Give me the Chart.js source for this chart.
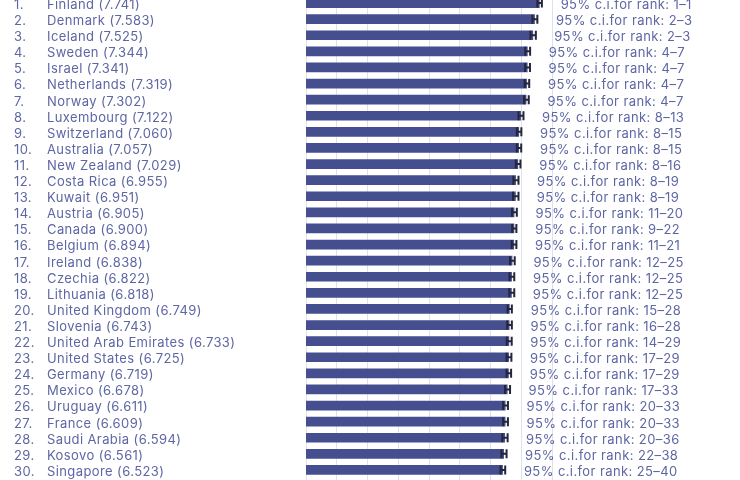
<!DOCTYPE html>
<html>
<head>
<meta charset="utf-8">
<script src="https://cdn.jsdelivr.net/npm/chart.js@4"></script>
<style>
  html, body { margin: 0; padding: 0; background: #fff; overflow: hidden; }
  #wrap { position: absolute; left: 0; top: -5px; width: 740px; height: 487px; }
</style>
</head>
<body>
<div id="wrap"><canvas id="chart"></canvas></div>
<script>
// World happiness ranking, top 30
const countries = [
    'Finland', 'Denmark', 'Iceland', 'Sweden', 'Israel', 'Netherlands', 'Norway',
    'Luxembourg', 'Switzerland', 'Australia', 'New Zealand', 'Costa Rica', 'Kuwait',
    'Austria', 'Canada', 'Belgium', 'Ireland', 'Czechia', 'Lithuania', 'United Kingdom',
    'Slovenia', 'United Arab Emirates', 'United States', 'Germany', 'Mexico', 'Uruguay',
    'France', 'Saudi Arabia', 'Kosovo', 'Singapore'
];
const scores = [
    7.741, 7.583, 7.525, 7.344, 7.341, 7.319, 7.302, 7.122, 7.060, 7.057,
    7.029, 6.955, 6.951, 6.905, 6.900, 6.894, 6.838, 6.822, 6.818, 6.749,
    6.743, 6.733, 6.725, 6.719, 6.678, 6.611, 6.609, 6.594, 6.561, 6.523
];
const ciLow = [
    7.665, 7.500, 7.435, 7.265, 7.260, 7.245, 7.225, 7.040, 6.985, 6.985,
    6.950, 6.870, 6.860, 6.825, 6.830, 6.815, 6.760, 6.745, 6.735, 6.680,
    6.665, 6.650, 6.645, 6.645, 6.595, 6.530, 6.530, 6.505, 6.475, 6.445
];
const ciHigh = [
    7.815, 7.665, 7.615, 7.425, 7.420, 7.395, 7.380, 7.205, 7.135, 7.130,
    7.105, 7.040, 7.040, 6.985, 6.970, 6.970, 6.915, 6.900, 6.900, 6.820,
    6.820, 6.815, 6.805, 6.795, 6.760, 6.690, 6.690, 6.680, 6.645, 6.600
];
const rankRanges = [
    '1-1', '2-3', '2-3', '4-7', '4-7', '4-7', '4-7', '8-13', '8-15', '8-15',
    '8-16', '8-19', '8-19', '11-20', '9-22', '11-21', '12-25', '12-25', '12-25', '15-28',
    '16-28', '14-29', '17-29', '17-29', '17-33', '20-33', '20-33', '20-36', '22-38', '25-40'
];

const BAR_COLOR = '#454f8f';
const TEXT_COLOR = '#5e66a4';
const GRID_COLOR = '#dfe0ee';
const FONT = '13px Inter, sans-serif';

// rank, name and score on the left, whiskers and rank interval on the right
const annotations = {
    id: 'annotations',
    afterDatasetsDraw(chart) {
        const ctx = chart.ctx;
        const x = chart.scales.x;
        const y = chart.scales.y;
        ctx.save();
        ctx.font = FONT;
        ctx.textBaseline = 'middle';
        ctx.textAlign = 'left';
        ctx.letterSpacing = '0.4px';
        countries.forEach((name, i) => {
            const cy = y.getPixelForValue(i);
            const ty = cy + 2;

            ctx.fillStyle = TEXT_COLOR;
            ctx.fillText((i + 1) + '.', 14, ty);
            ctx.fillText(name + ' (' + scores[i].toFixed(3) + ')', 47, ty);

            // error whisker
            const lo = x.getPixelForValue(ciLow[i]);
            const hi = x.getPixelForValue(ciHigh[i]);
            ctx.strokeStyle = '#24263a';
            ctx.lineWidth = 2;
            ctx.beginPath();
            ctx.moveTo(lo, cy - 4.5); ctx.lineTo(lo, cy + 4.5);
            ctx.moveTo(hi, cy - 4.5); ctx.lineTo(hi, cy + 4.5);
            ctx.moveTo(lo, cy); ctx.lineTo(hi, cy);
            ctx.stroke();

            ctx.fillText('95% c.i.for rank: ' + rankRanges[i].replace('-', '\u2013'),
                x.getPixelForValue(scores[i]) + 21, ty);
        });
        ctx.restore();
    }
};

new Chart(document.getElementById('chart'), {
    type: 'bar',
    data: {
        labels: countries,
        datasets: [{
            data: scores,
            backgroundColor: BAR_COLOR,
            barPercentage: 0.6,
            categoryPercentage: 1.0
        }]
    },
    options: {
        indexAxis: 'y',
        responsive: true,
        maintainAspectRatio: false,
        animation: false,
        layout: {
            padding: { left: 306, right: 188, top: 0, bottom: 0 }
        },
        scales: {
            x: {
                display: false,
                min: 0,
                max: 8.15
            },
            xGrid: {
                type: 'linear',
                axis: 'x',
                position: 'bottom',
                min: 0,
                max: 8,
                ticks: { display: false, stepSize: 1 },
                grid: { color: GRID_COLOR, lineWidth: 1, tickLength: 4 },
                border: { display: false }
            },
            y: {
                display: false
            }
        },
        plugins: {
            legend: { display: false },
            tooltip: { enabled: false }
        }
    },
    plugins: [annotations]
});
</script>
</body>
</html>
